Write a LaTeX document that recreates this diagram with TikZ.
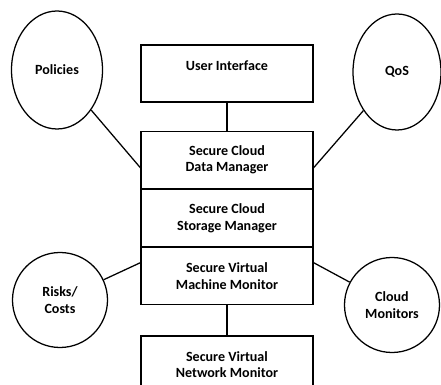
\documentclass[tikz,border=0pt]{standalone}
\usepackage{fontspec}
\setmainfont{Carlito}
\usepackage{tikz}
\usetikzlibrary{shapes}
\usetikzlibrary{positioning}

\begin{document}
\begin{tikzpicture}[
    node distance=0pt,
    box/.style={rectangle, draw, line width=0.9pt, align=center, minimum width=4.3cm, minimum height=1.425cm, font=\fontsize{10}{12}\selectfont\bfseries},
    bubble/.style={ellipse, draw, line width=0.9pt, align=center, inner sep=0pt, font=\fontsize{10}{12}\selectfont\bfseries},
    link/.style={line width=0.9pt}
    ]

\useasboundingbox (0,0) rectangle (11.025,-9.625);

% Nodes
\node[box, text depth=0.4cm] (ui) at (5.675,-1.8375) {User Interface};
\node[box] (data_mgr) [below=0.7cm of ui] {Secure Cloud\\Data Manager};
\node[box] (storage_mgr) [below=of data_mgr] {Secure Cloud\\Storage Manager};
\node[box] (vm_mon) [below=of storage_mgr] {Secure Virtual\\Machine Monitor};
\node[box] (net_mon) [below=0.75cm of vm_mon] {Secure Virtual\\Network Monitor};

% Outer circles
\node[bubble, minimum width=2.275cm, minimum height=2.95cm] (policies) at (1.425,-1.75) {Policies};
\node[bubble, minimum width=2.2cm, minimum height=2.9cm] (qos) at (9.925,-1.8) {QoS};
\node[bubble, minimum width=2.375cm, minimum height=2.375cm] (risks) at (1.5,-7.5) {Risks/\\Costs};
\node[bubble, minimum width=2.375cm, minimum height=2.375cm] (cloud_mon) at (9.8,-7.625) {Cloud\\Monitors};

% Lines
\draw[link] (ui) -- (data_mgr);
\draw[link] (vm_mon) -- (net_mon);
\draw[link] (policies) -- ([yshift=-2mm]data_mgr.west);
\draw[link] (qos) -- ([yshift=-2mm]data_mgr.east);
\draw[link] (risks) -- ([yshift=3.4mm]vm_mon.west);
\draw[link] (cloud_mon) -- ([yshift=3.4mm]vm_mon.east);

\end{tikzpicture}
\end{document}
